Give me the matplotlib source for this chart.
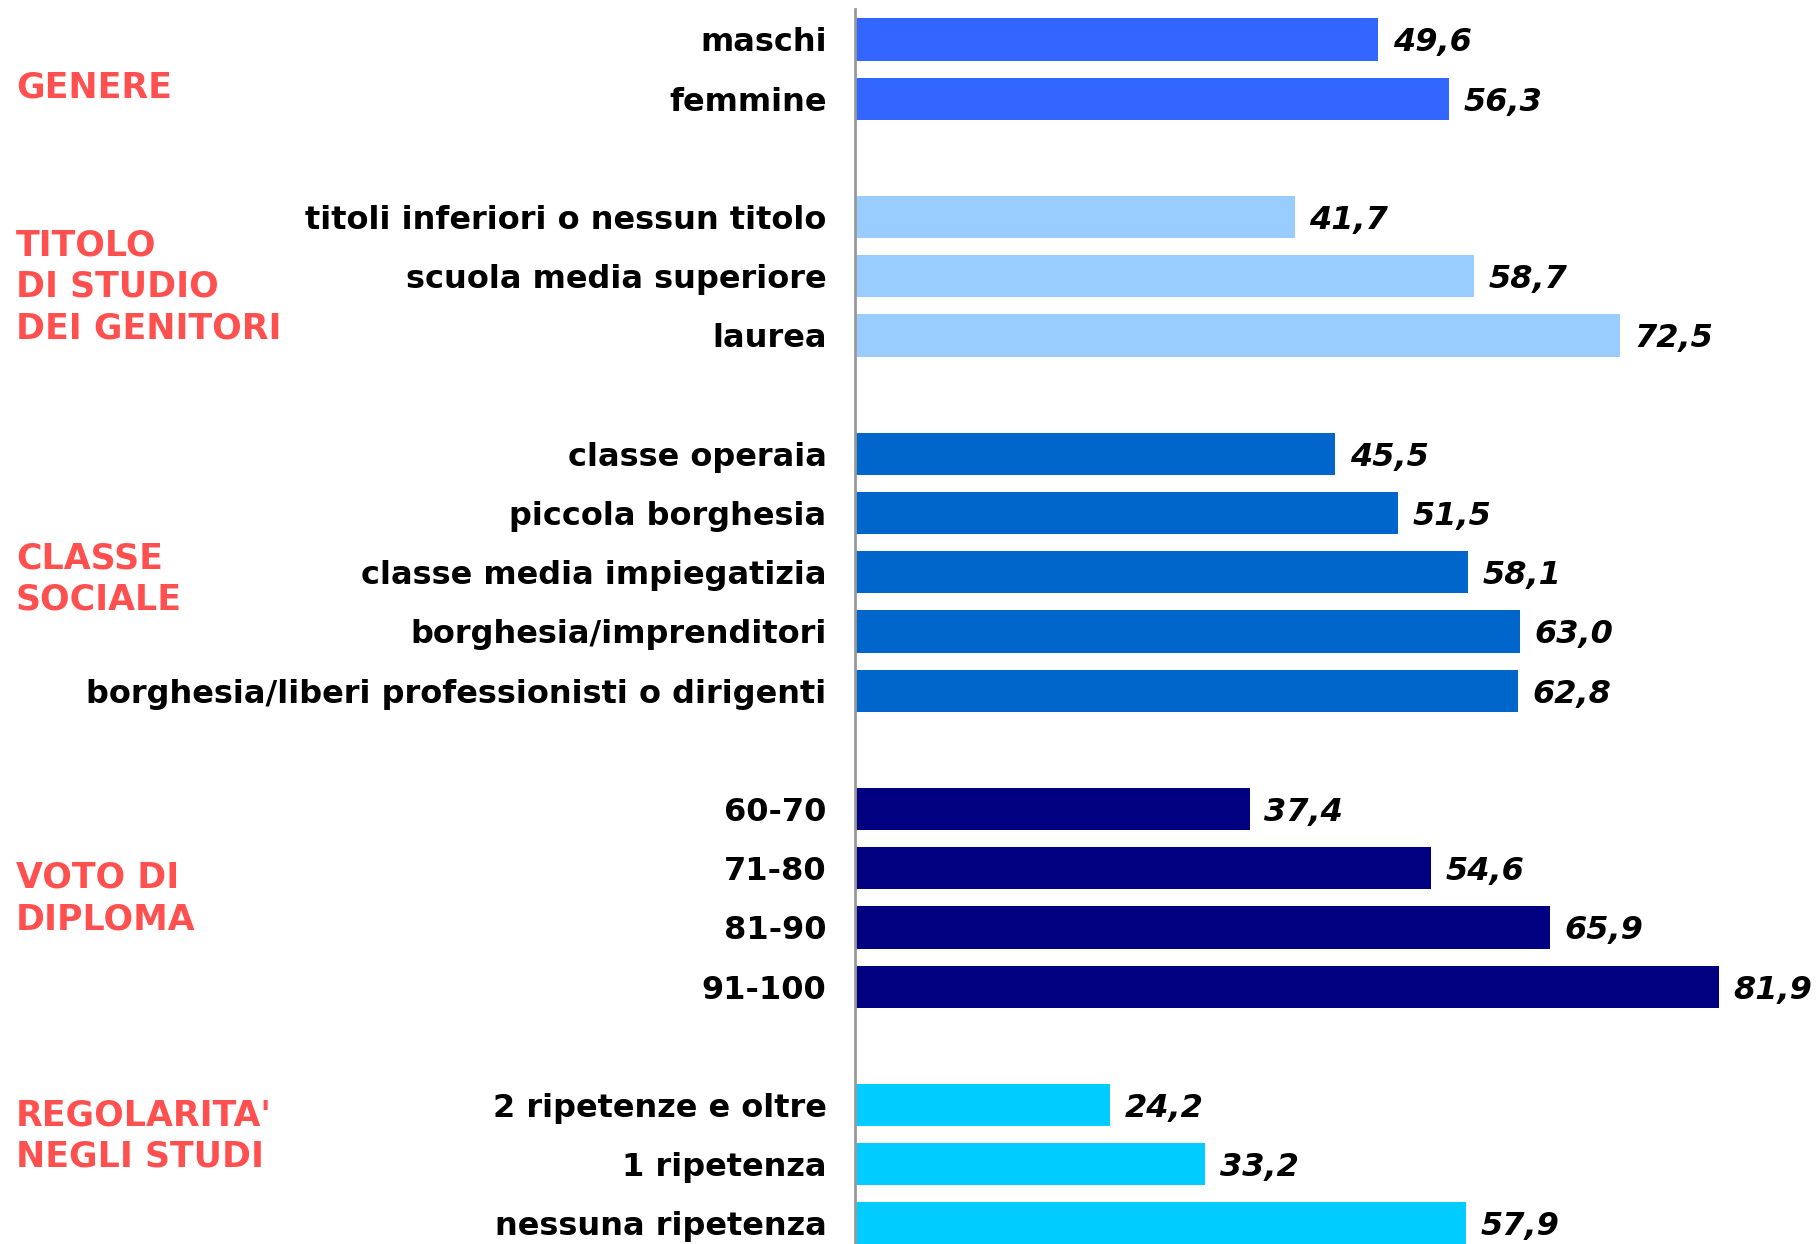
import matplotlib
matplotlib.use("Agg")
import matplotlib.pyplot as plt
import matplotlib.transforms as mtransforms
import numpy as np

# ---- data -------------------------------------------------------------
groups = ["GENERE", "TITOLO\nDI STUDIO\nDEI GENITORI", "CLASSE\nSOCIALE",
          "VOTO DI\nDIPLOMA", "REGOLARITA'\nNEGLI STUDI"]

genere_labels = ["maschi", "femmine"]
genere_values = [49.6, 56.3]

titolo_labels = ["titoli inferiori o nessun titolo", "scuola media superiore", "laurea"]
titolo_values = [41.7, 58.7, 72.5]

classe_labels = ["classe operaia", "piccola borghesia", "classe media impiegatizia",
                 "borghesia/imprenditori",
                 "borghesia/liberi professionisti o dirigenti"]
classe_values = [45.5, 51.5, 58.1, 63.0, 62.8]

voto_labels = ["60-70", "71-80", "81-90", "91-100"]
voto_values = [37.4, 54.6, 65.9, 81.9]

regolarita_labels = ["2 ripetenze e oltre", "1 ripetenza", "nessuna ripetenza"]
regolarita_values = [24.2, 33.2, 57.9]

# ---- style ------------------------------------------------------------
group_colors = ["#3366FF", "#99CCFF", "#0066CC", "#000080", "#00CCFF"]
title_color = "#FF5050"
title_nudge = [0.26, 0.12, 0.05, -0.05, -0.54]   # fine vertical placement of group titles
title_step = 0.70                                 # rows between title lines

W, H, DPI = 1820, 1244, 100
fig = plt.figure(figsize=(W / DPI, H / DPI), dpi=DPI)
# axis line at x=855 px, first row centre at 39.5 px, row pitch 59.2 px
ax = fig.add_axes([855 / W, 0, 1 - 855 / W, (H - 9) / H])
row0, pitch = 39.5, 59.2
ax.set_xlim(0, (W - 855) / 10.55)
ax.set_ylim((H - row0) / pitch, (9 - row0) / pitch)

all_labels = [genere_labels, titolo_labels, classe_labels, voto_labels, regolarita_labels]
all_values = [genere_values, titolo_values, classe_values, voto_values, regolarita_values]

title_tr = mtransforms.blended_transform_factory(fig.transFigure, ax.transData)
row = 0
for gi, (labels, values) in enumerate(zip(all_labels, all_values)):
    rows = np.arange(row, row + len(values))
    ax.barh(rows, values, height=0.71, color=group_colors[gi], edgecolor="none")
    for r, lab, v in zip(rows, labels, values):
        ax.annotate(lab, xy=(0, r), xytext=(-20.5, 0), textcoords="offset points",
                    ha="right", va="center_baseline", fontsize=23,
                    fontweight="bold", color="black", annotation_clip=False)
        ax.annotate(f"{v:.1f}".replace(".", ","), xy=(v, r), xytext=(10.5, 0),
                    textcoords="offset points", ha="left", va="center_baseline",
                    fontsize=23, fontweight="bold", fontstyle="italic",
                    color="black", annotation_clip=False)
    lines = groups[gi].split("\n")
    yc = rows.mean() + title_nudge[gi]
    for li, line in enumerate(lines):
        y = yc + (li - (len(lines) - 1) / 2) * title_step
        ax.text(16 / W, y, line, transform=title_tr, ha="left",
                va="center_baseline", fontsize=25, fontweight="bold",
                color=title_color, clip_on=False)
    row += len(values) + 1

for s in ["top", "right", "bottom"]:
    ax.spines[s].set_visible(False)
ax.spines["left"].set_color("#999999")
ax.spines["left"].set_linewidth(2)
ax.set_xticks([])
ax.set_yticks([])

fig.savefig("out.png", dpi=DPI)
